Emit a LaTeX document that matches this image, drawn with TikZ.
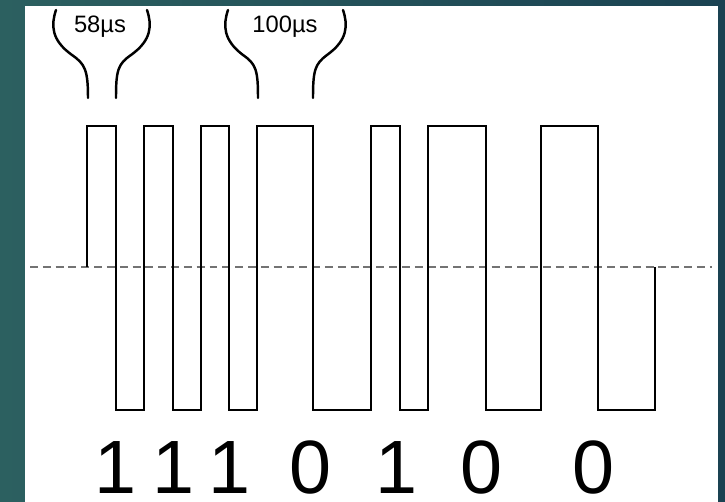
\documentclass[tikz,border=0pt]{standalone}
\usepackage{fontspec}
\setmainfont{Liberation Sans}
\begin{document}
\begin{tikzpicture}[x=0.02cm,y=-0.02cm]
    % Define styles for lines and labels
    \tikzstyle{signal} = [draw=black, line width=1.4pt, line join=miter]
    \tikzstyle{midline} = [draw=black!55, line width=1.1pt, dash pattern=on 4.5pt off 2.8pt]
    \tikzstyle{brace} = [draw=black, line width=1.4pt, line cap=round]
    \tikzstyle{timelabel} = [inner sep=0pt, font=\fontsize{13.5}{14}\selectfont]
    \tikzstyle{bitlabel} = [inner sep=0pt, anchor=base, font=\fontsize{43}{43}\selectfont]

    % Slide background and white sheet
    \useasboundingbox (0,0) rectangle (725,502);
    \shade[left color={rgb,255:red,44;green,96;blue,96}, right color={rgb,255:red,26;green,66;blue,82}] (0,0) rectangle (725,502);
    \fill[white] (25,6) rectangle (718,502);

    % Dashed zero level
    \draw[midline] (30,267) -- (712,267);

    % Draw the waveform
    \draw[signal] (87,267) -- (87,126) -- (116,126) -- (116,410) -- (144,410)
        -- (144,126) -- (173,126) -- (173,410) -- (201,410)
        -- (201,126) -- (229,126) -- (229,410) -- (257,410)
        -- (257,126) -- (313,126) -- (313,410) -- (371,410)
        -- (371,126) -- (400,126) -- (400,410) -- (428,410)
        -- (428,126) -- (486,126) -- (486,410) -- (541,410)
        -- (541,126) -- (598,126) -- (598,410) -- (655,410) -- (655,267);

    % Braces marking the pulse widths
    \draw[brace] (56,10) .. controls (51,25) and (51,40) .. (72,55) .. controls (85,64) and (88,70) .. (88,98);
    \draw[brace] (147,10) .. controls (152,25) and (152,40) .. (131,55) .. controls (118,64) and (116,70) .. (116,98);
    \draw[brace] (228,10) .. controls (223,25) and (223,40) .. (243,55) .. controls (256,64) and (258,70) .. (258,98);
    \draw[brace] (343,10) .. controls (348,25) and (348,40) .. (327,55) .. controls (315,64) and (313,70) .. (313,98);

    \node[timelabel] (short) at (100,27) {58µs};
    \node[timelabel] (long) at (285,27) {100µs};

    % Bit values under the waveform
    \node[bitlabel] (b1) at (116,494) {1};
    \node[bitlabel] (b2) at (174,494) {1};
    \node[bitlabel] (b3) at (230,494) {1};
    \node[bitlabel] (b4) at (311,494) {0};
    \node[bitlabel] (b5) at (397,494) {1};
    \node[bitlabel] (b6) at (482,494) {0};
    \node[bitlabel] (b7) at (594,494) {0};
\end{tikzpicture}
\end{document}
